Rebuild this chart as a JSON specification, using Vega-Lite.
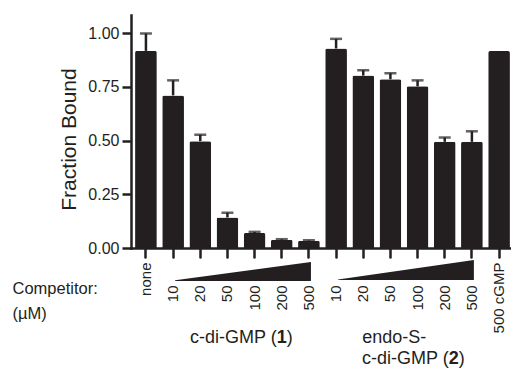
{
  "$schema": "https://vega.github.io/schema/vega-lite/v6.json",
  "autosize": {"type": "none"},
  "padding": {"left": 131, "top": 15, "right": 0, "bottom": 120},
  "width": 383,
  "height": 233,
  "config": {
    "view": {"stroke": null},
    "font": "Liberation Sans",
    "text": {"font": "Liberation Sans", "fontSize": 18, "color": "#231f20", "baseline": "alphabetic"},
    "axis": {"grid": false, "domainColor": "#231f20", "tickColor": "#231f20", "labelColor": "#231f20", "titleColor": "#231f20", "domainWidth": 2.5, "tickWidth": 2.5, "domainCap": "square"}
  },
  "datasets": {
    "bars": [
      {"id": "none", "value": 0.917, "err": 0.998},
      {"id": "c10", "value": 0.710, "err": 0.780},
      {"id": "c20", "value": 0.497, "err": 0.527},
      {"id": "c50", "value": 0.142, "err": 0.164},
      {"id": "c100", "value": 0.070, "err": 0.075},
      {"id": "c200", "value": 0.038, "err": 0.041},
      {"id": "c500", "value": 0.034, "err": 0.036},
      {"id": "e10", "value": 0.928, "err": 0.973},
      {"id": "e20", "value": 0.802, "err": 0.827},
      {"id": "e50", "value": 0.785, "err": 0.813},
      {"id": "e100", "value": 0.752, "err": 0.780},
      {"id": "e200", "value": 0.494, "err": 0.514},
      {"id": "e500", "value": 0.494, "err": 0.543},
      {"id": "cGMP", "value": 0.916, "err": null}
    ],
    "wedges": [
      {"id": "c10", "grp": "c", "lo": -0.153, "hi": -0.150},
      {"id": "c500", "grp": "c", "lo": -0.153, "hi": -0.065},
      {"id": "e10", "grp": "e", "lo": -0.149, "hi": -0.146},
      {"id": "e500", "grp": "e", "lo": -0.149, "hi": -0.056}
    ],
    "one": [{}]
  },
  "encoding": {
    "x": {
      "field": "id",
      "type": "nominal",
      "scale": {
        "domain": ["none", "c10", "c20", "c50", "c100", "c200", "c500", "e10", "e20", "e50", "e100", "e200", "e500", "cGMP"],
        "paddingInner": 0.2,
        "paddingOuter": 0.15
      },
      "axis": {
        "title": ["Competitor:", "(µM)"],
        "titleFontSize": 16.5,
        "titleFontWeight": "normal",
        "titleAlign": "left",
        "titleBaseline": "alphabetic",
        "titleLineHeight": 25,
        "titleX": -119,
        "titleY": 45,
        "tickSize": 9,
        "tickCap": "round",
        "labelAngle": -90,
        "labelAlign": "right",
        "labelBaseline": "middle",
        "labelFontSize": 15,
        "labelExpr": "datum.value == 'none' ? 'none' : datum.value == 'cGMP' ? '500 cGMP' : slice(datum.value, 1)",
        "labelPadding": {"condition": {"test": "datum.value == 'none' || datum.value == 'cGMP'", "value": 5}, "value": 28}
      }
    }
  },
  "layer": [
    {
      "data": {"name": "bars"},
      "mark": {"type": "bar", "color": "#231f20", "cornerRadiusTopLeft": 2, "cornerRadiusTopRight": 2},
      "encoding": {
        "y": {
          "field": "value",
          "type": "quantitative",
          "scale": {"domain": [0, 1.084], "nice": false, "zero": false},
          "axis": {
            "title": "Fraction Bound",
            "titleFontSize": 21,
            "titleFontWeight": "normal",
            "titlePadding": 8,
            "titleY": 124,
            "values": [0, 0.25, 0.5, 0.75, 1],
            "format": ".2f",
            "labelFontSize": 16,
            "tickSize": 9,
            "labelPadding": 3
          }
        }
      }
    },
    {
      "data": {"name": "bars"},
      "transform": [{"filter": "datum.err != null"}],
      "mark": {"type": "rule", "color": "#231f20", "strokeWidth": 2.5},
      "encoding": {
        "y": {"field": "value", "type": "quantitative", "title": "Fraction Bound"},
        "y2": {"field": "err"}
      }
    },
    {
      "data": {"name": "bars"},
      "transform": [{"filter": "datum.err != null"}],
      "mark": {"type": "tick", "color": "#231f20", "thickness": 2.5, "size": 12, "orient": "horizontal"},
      "encoding": {
        "y": {"field": "err", "type": "quantitative", "title": "Fraction Bound"}
      }
    },
    {
      "data": {"name": "wedges"},
      "mark": {"type": "area", "color": "#231f20", "xOffset": 2},
      "encoding": {
        "detail": {"field": "grp"},
        "y": {"field": "lo", "type": "quantitative", "title": "Fraction Bound"},
        "y2": {"field": "hi"}
      }
    },
    {
      "data": {"name": "one"},
      "mark": {"type": "text", "align": "right", "xOffset": -5},
      "encoding": {"x": {"datum": "c200"}, "y": {"datum": -0.442}, "text": {"value": "c-di-GMP ("}}
    },
    {
      "data": {"name": "one"},
      "mark": {"type": "text", "align": "left", "fontWeight": "bold", "xOffset": -5},
      "encoding": {"x": {"datum": "c200"}, "y": {"datum": -0.442}, "text": {"value": "1"}}
    },
    {
      "data": {"name": "one"},
      "mark": {"type": "text", "align": "left", "xOffset": 5},
      "encoding": {"x": {"datum": "c200"}, "y": {"datum": -0.442}, "text": {"value": ")"}}
    },
    {
      "data": {"name": "one"},
      "mark": {"type": "text", "align": "left", "xOffset": -1},
      "encoding": {"x": {"datum": "e20"}, "y": {"datum": -0.442}, "text": {"value": "endo-S-"}}
    },
    {
      "data": {"name": "one"},
      "mark": {"type": "text", "align": "right", "xOffset": 4},
      "encoding": {"x": {"datum": "e200"}, "y": {"datum": -0.540}, "text": {"value": "c-di-GMP ("}}
    },
    {
      "data": {"name": "one"},
      "mark": {"type": "text", "align": "left", "fontWeight": "bold", "xOffset": 4},
      "encoding": {"x": {"datum": "e200"}, "y": {"datum": -0.540}, "text": {"value": "2"}}
    },
    {
      "data": {"name": "one"},
      "mark": {"type": "text", "align": "left", "xOffset": 14},
      "encoding": {"x": {"datum": "e200"}, "y": {"datum": -0.540}, "text": {"value": ")"}}
    }
  ]
}
